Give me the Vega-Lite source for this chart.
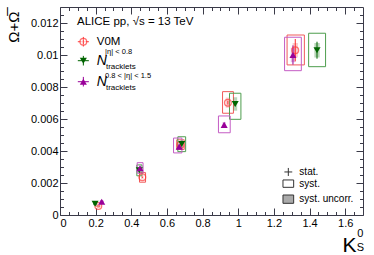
{
"$schema": "https://vega.github.io/schema/vega-lite/v6.json",
"width": 303, "height": 208,
"autosize": {"type": "none"},
"padding": {"left": 60, "top": 7, "right": 11, "bottom": 40},
"background": "white",
"config": {
  "view": {"stroke": "#3a3a48", "strokeWidth": 1},
  "axis": {"domain": false, "grid": false, "tickColor": "#3a3a48", "tickWidth": 1, "labelFont": "Liberation Sans", "labelFontSize": 11, "labelColor": "#000", "titleFont": "Liberation Sans", "titleColor": "#000", "titleFontWeight": "normal"},
  "text": {"font": "Liberation Sans", "color": "#000"}
},
"resolve": {"axis": {"x": "independent", "y": "independent"}},
"data": {"values": [
  {"s": "V0M", "x": 0.215, "y": 0.00056, "xlo": 0.207, "xhi": 0.223, "ylo": 0.00050, "yhi": 0.00062, "uxlo": 0.211, "uxhi": 0.219, "uylo": 0.00053, "uyhi": 0.00059, "elo": 0.00054, "ehi": 0.00058},
  {"s": "V0M", "x": 0.462, "y": 0.00236, "xlo": 0.446, "xhi": 0.480, "ylo": 0.00205, "yhi": 0.00265, "uxlo": 0.455, "uxhi": 0.469, "uylo": 0.00222, "uyhi": 0.00250, "elo": 0.00232, "ehi": 0.00240},
  {"s": "V0M", "x": 0.676, "y": 0.00438, "xlo": 0.655, "xhi": 0.697, "ylo": 0.0041, "yhi": 0.0047, "uxlo": 0.668, "uxhi": 0.684, "uylo": 0.00422, "uyhi": 0.00454, "elo": 0.00432, "ehi": 0.00444},
  {"s": "V0M", "x": 0.942, "y": 0.00702, "xlo": 0.912, "xhi": 0.973, "ylo": 0.00636, "yhi": 0.00771, "uxlo": 0.930, "uxhi": 0.954, "uylo": 0.00670, "uyhi": 0.00734, "elo": 0.00690, "ehi": 0.00714},
  {"s": "V0M", "x": 1.32, "y": 0.0103, "xlo": 1.274, "xhi": 1.371, "ylo": 0.00938, "yhi": 0.01125, "uxlo": 1.305, "uxhi": 1.335, "uylo": 0.00985, "uyhi": 0.01075, "elo": 0.0096, "ehi": 0.0110},
  {"s": "N08", "x": 0.197, "y": 0.0007, "xlo": 0.189, "xhi": 0.205, "ylo": 0.00064, "yhi": 0.00076, "uxlo": 0.193, "uxhi": 0.201, "uylo": 0.00067, "uyhi": 0.00073, "elo": 0.00068, "ehi": 0.00072},
  {"s": "N08", "x": 0.445, "y": 0.0028, "xlo": 0.431, "xhi": 0.460, "ylo": 0.00245, "yhi": 0.00313, "uxlo": 0.440, "uxhi": 0.450, "uylo": 0.00262, "uyhi": 0.00298, "elo": 0.00275, "ehi": 0.00285},
  {"s": "N08", "x": 0.683, "y": 0.00444, "xlo": 0.661, "xhi": 0.705, "ylo": 0.00396, "yhi": 0.00489, "uxlo": 0.675, "uxhi": 0.691, "uylo": 0.0042, "uyhi": 0.00468, "elo": 0.00437, "ehi": 0.00451},
  {"s": "N08", "x": 0.983, "y": 0.00694, "xlo": 0.951, "xhi": 1.015, "ylo": 0.00598, "yhi": 0.00761, "uxlo": 0.972, "uxhi": 0.994, "uylo": 0.00652, "uyhi": 0.00736, "elo": 0.0068, "ehi": 0.00708},
  {"s": "N08", "x": 1.442, "y": 0.0103, "xlo": 1.395, "xhi": 1.490, "ylo": 0.00927, "yhi": 0.01136, "uxlo": 1.427, "uxhi": 1.457, "uylo": 0.00985, "uyhi": 0.01075, "elo": 0.00977, "ehi": 0.01083},
  {"s": "N0815", "x": 0.234, "y": 0.00083, "xlo": 0.226, "xhi": 0.242, "ylo": 0.00077, "yhi": 0.00089, "uxlo": 0.230, "uxhi": 0.238, "uylo": 0.0008, "uyhi": 0.00086, "elo": 0.00081, "ehi": 0.00085},
  {"s": "N0815", "x": 0.449, "y": 0.00292, "xlo": 0.433, "xhi": 0.466, "ylo": 0.00261, "yhi": 0.00327, "uxlo": 0.444, "uxhi": 0.454, "uylo": 0.00278, "uyhi": 0.00306, "elo": 0.00287, "ehi": 0.00297},
  {"s": "N0815", "x": 0.669, "y": 0.00427, "xlo": 0.637, "xhi": 0.684, "ylo": 0.00388, "yhi": 0.00481, "uxlo": 0.661, "uxhi": 0.677, "uylo": 0.0041, "uyhi": 0.00444, "elo": 0.0042, "ehi": 0.00434},
  {"s": "N0815", "x": 0.921, "y": 0.00563, "xlo": 0.889, "xhi": 0.955, "ylo": 0.00514, "yhi": 0.00619, "uxlo": 0.912, "uxhi": 0.930, "uylo": 0.00545, "uyhi": 0.00581, "elo": 0.00553, "ehi": 0.00573},
  {"s": "N0815", "x": 1.307, "y": 0.0100, "xlo": 1.260, "xhi": 1.354, "ylo": 0.00902, "yhi": 0.01111, "uxlo": 1.295, "uxhi": 1.319, "uylo": 0.00955, "uyhi": 0.01045, "elo": 0.0094, "ehi": 0.0106}
]},
"layer": [
  {"mark": {"type": "rect", "fill": null, "fillOpacity": 0, "strokeWidth": 1},
   "encoding": {
     "x": {"field": "xlo", "type": "quantitative", "scale": {"domain": [0, 1.7], "nice": false, "zero": false},
           "axis": {"orient": "bottom", "values": [0, 0.2, 0.4, 0.6, 0.8, 1, 1.2, 1.4, 1.6], "tickSize": -7, "labelPadding": 9, "format": "~g", "title": null}},
     "x2": {"field": "xhi"},
     "y": {"field": "ylo", "type": "quantitative", "scale": {"domain": [0, 0.013], "nice": false, "zero": false},
           "axis": {"orient": "left", "values": [0, 0.002, 0.004, 0.006, 0.008, 0.01, 0.012], "tickSize": -7, "labelPadding": 9, "format": "~g",
                    "title": "Ω+Ω\u0305", "titleFontSize": 15, "titleX": -47, "titleY": 4, "titleAlign": "right", "titleBaseline": "middle", "titleAngle": -90}},
     "y2": {"field": "yhi"},
     "stroke": {"field": "s", "type": "nominal", "scale": {"domain": ["V0M", "N08", "N0815"], "range": ["#f05a5a", "#4e9e4e", "#c45cc4"]}, "legend": null}
   }},
  {"mark": {"type": "rect", "fillOpacity": 0.35, "strokeWidth": 0},
   "encoding": {
     "x": {"field": "uxlo", "type": "quantitative", "scale": {"domain": [0, 1.7], "nice": false, "zero": false},
           "axis": {"orient": "bottom", "values": [0.05, 0.1, 0.15, 0.25, 0.3, 0.35, 0.45, 0.5, 0.55, 0.65, 0.7, 0.75, 0.85, 0.9, 0.95, 1.05, 1.1, 1.15, 1.25, 1.3, 1.35, 1.45, 1.5, 1.55, 1.65], "tickSize": -3.5, "labels": false, "title": null}},
     "x2": {"field": "uxhi"},
     "y": {"field": "uylo", "type": "quantitative", "scale": {"domain": [0, 0.013], "nice": false, "zero": false},
           "axis": {"orient": "left", "values": [0.0005, 0.001, 0.0015, 0.0025, 0.003, 0.0035, 0.0045, 0.005, 0.0055, 0.0065, 0.007, 0.0075, 0.0085, 0.009, 0.0095, 0.0105, 0.011, 0.0115, 0.0125], "tickSize": -3.5, "labels": false, "title": null}},
     "y2": {"field": "uyhi"},
     "fill": {"field": "s", "type": "nominal", "scale": {"domain": ["V0M", "N08", "N0815"], "range": ["#f07070", "#3a8a3a", "#b040b0"]}, "legend": null}
   }},
  {"mark": {"type": "rule", "strokeWidth": 1},
   "encoding": {
     "x": {"field": "x", "type": "quantitative", "scale": {"domain": [0, 1.7], "nice": false, "zero": false},
           "axis": {"orient": "top", "values": [0, 0.2, 0.4, 0.6, 0.8, 1, 1.2, 1.4, 1.6], "tickSize": -7, "labels": false, "title": null}},
     "y": {"field": "elo", "type": "quantitative", "scale": {"domain": [0, 0.013], "nice": false, "zero": false},
           "axis": {"orient": "right", "values": [0, 0.002, 0.004, 0.006, 0.008, 0.01, 0.012], "tickSize": -7, "labels": false, "title": null}},
     "y2": {"field": "ehi"},
     "color": {"field": "s", "type": "nominal", "scale": {"domain": ["V0M", "N08", "N0815"], "range": ["#ff2a2a", "#006400", "#990099"]}, "legend": null}
   }},
  {"transform": [{"filter": "datum.s == 'V0M'"}],
   "mark": {"type": "point", "shape": "circle", "filled": false, "stroke": "#ff3a3a", "strokeWidth": 1.3, "size": 45},
   "encoding": {
     "x": {"field": "x", "type": "quantitative", "scale": {"domain": [0, 1.7], "nice": false, "zero": false},
           "axis": {"orient": "top", "values": [0.05, 0.1, 0.15, 0.25, 0.3, 0.35, 0.45, 0.5, 0.55, 0.65, 0.7, 0.75, 0.85, 0.9, 0.95, 1.05, 1.1, 1.15, 1.25, 1.3, 1.35, 1.45, 1.5, 1.55, 1.65], "tickSize": -3.5, "labels": false, "title": null}},
     "y": {"field": "y", "type": "quantitative", "scale": {"domain": [0, 0.013], "nice": false, "zero": false},
           "axis": {"orient": "right", "values": [0.0005, 0.001, 0.0015, 0.0025, 0.003, 0.0035, 0.0045, 0.005, 0.0055, 0.0065, 0.007, 0.0075, 0.0085, 0.009, 0.0095, 0.0105, 0.011, 0.0115, 0.0125], "tickSize": -3.5, "labels": false, "title": null}}
   }},
  {"transform": [{"filter": "datum.s != 'V0M'"}],
   "mark": {"type": "point", "filled": true, "size": 50, "opacity": 1},
   "encoding": {
     "x": {"field": "x", "type": "quantitative", "scale": {"domain": [0, 1.7], "nice": false, "zero": false}, "axis": null},
     "y": {"field": "y", "type": "quantitative", "scale": {"domain": [0, 0.013], "nice": false, "zero": false}, "axis": null},
     "color": {"field": "s", "type": "nominal", "scale": {"domain": ["V0M", "N08", "N0815"], "range": ["#ff2a2a", "#006400", "#990099"]}, "legend": null},
     "shape": {"field": "s", "type": "nominal", "scale": {"domain": ["N08", "N0815"], "range": ["triangle-down", "triangle-up"]}, "legend": null}
   }},

  {"data": {"values": [{}]}, "mark": {"type": "text", "text": "ALICE pp, √s = 13 TeV", "fontSize": 11.5, "align": "left", "baseline": "middle"},
   "encoding": {"x": {"datum": 0.0955, "type": "quantitative", "axis": null}, "y": {"datum": 0.01206, "type": "quantitative", "axis": null}}},

  {"data": {"values": [{}]}, "mark": {"type": "rule", "color": "#ff3a3a"},
   "encoding": {"x": {"datum": 0.1, "type": "quantitative", "axis": null}, "x2": {"datum": 0.162}, "y": {"datum": 0.01083, "type": "quantitative", "axis": null}}},
  {"data": {"values": [{}]}, "mark": {"type": "rule", "color": "#ff3a3a"},
   "encoding": {"x": {"datum": 0.131, "type": "quantitative", "axis": null}, "y": {"datum": 0.01053, "type": "quantitative", "axis": null}, "y2": {"datum": 0.01113}}},
  {"data": {"values": [{}]}, "mark": {"type": "point", "shape": "circle", "filled": true, "fill": "white", "stroke": "#ff3a3a", "strokeWidth": 1.3, "size": 45},
   "encoding": {"x": {"datum": 0.131, "type": "quantitative", "axis": null}, "y": {"datum": 0.01083, "type": "quantitative", "axis": null}}},
  {"data": {"values": [{}]}, "mark": {"type": "rule", "color": "#ff3a3a"},
   "encoding": {"x": {"datum": 0.131, "type": "quantitative", "axis": null}, "y": {"datum": 0.01068, "type": "quantitative", "axis": null}, "y2": {"datum": 0.01098}}},
  {"data": {"values": [{}]}, "mark": {"type": "text", "text": "V0M", "fontSize": 11.5, "align": "left", "baseline": "middle"},
   "encoding": {"x": {"datum": 0.206, "type": "quantitative", "axis": null}, "y": {"datum": 0.01083, "type": "quantitative", "axis": null}}},

  {"data": {"values": [{}]}, "mark": {"type": "rule", "color": "#006400"},
   "encoding": {"x": {"datum": 0.1, "type": "quantitative", "axis": null}, "x2": {"datum": 0.162}, "y": {"datum": 0.009644, "type": "quantitative", "axis": null}}},
  {"data": {"values": [{}]}, "mark": {"type": "rule", "color": "#006400"},
   "encoding": {"x": {"datum": 0.131, "type": "quantitative", "axis": null}, "y": {"datum": 0.009344, "type": "quantitative", "axis": null}, "y2": {"datum": 0.009944}}},
  {"data": {"values": [{}]}, "mark": {"type": "point", "shape": "triangle-down", "filled": true, "color": "#006400", "size": 50, "opacity": 1},
   "encoding": {"x": {"datum": 0.131, "type": "quantitative", "axis": null}, "y": {"datum": 0.009644, "type": "quantitative", "axis": null}}},
  {"data": {"values": [{}]}, "mark": {"type": "text", "text": "N", "fontSize": 14, "fontStyle": "italic", "align": "left", "baseline": "middle"},
   "encoding": {"x": {"datum": 0.206, "type": "quantitative", "axis": null}, "y": {"datum": 0.009656, "type": "quantitative", "axis": null}}},
  {"data": {"values": [{}]}, "mark": {"type": "text", "text": "|η| < 0.8", "fontSize": 7.5, "align": "left", "baseline": "middle"},
   "encoding": {"x": {"datum": 0.253, "type": "quantitative", "axis": null}, "y": {"datum": 0.010188, "type": "quantitative", "axis": null}}},
  {"data": {"values": [{}]}, "mark": {"type": "text", "text": "tracklets", "fontSize": 8, "align": "left", "baseline": "middle"},
   "encoding": {"x": {"datum": 0.258, "type": "quantitative", "axis": null}, "y": {"datum": 0.00925, "type": "quantitative", "axis": null}}},

  {"data": {"values": [{}]}, "mark": {"type": "rule", "color": "#990099"},
   "encoding": {"x": {"datum": 0.1, "type": "quantitative", "axis": null}, "x2": {"datum": 0.162}, "y": {"datum": 0.008331, "type": "quantitative", "axis": null}}},
  {"data": {"values": [{}]}, "mark": {"type": "rule", "color": "#990099"},
   "encoding": {"x": {"datum": 0.131, "type": "quantitative", "axis": null}, "y": {"datum": 0.008031, "type": "quantitative", "axis": null}, "y2": {"datum": 0.008631}}},
  {"data": {"values": [{}]}, "mark": {"type": "point", "shape": "triangle-up", "filled": true, "color": "#990099", "size": 50, "opacity": 1},
   "encoding": {"x": {"datum": 0.131, "type": "quantitative", "axis": null}, "y": {"datum": 0.008331, "type": "quantitative", "axis": null}}},
  {"data": {"values": [{}]}, "mark": {"type": "text", "text": "N", "fontSize": 14, "fontStyle": "italic", "align": "left", "baseline": "middle"},
   "encoding": {"x": {"datum": 0.206, "type": "quantitative", "axis": null}, "y": {"datum": 0.008313, "type": "quantitative", "axis": null}}},
  {"data": {"values": [{}]}, "mark": {"type": "text", "text": "0.8 < |η| < 1.5", "fontSize": 7.5, "align": "left", "baseline": "middle"},
   "encoding": {"x": {"datum": 0.253, "type": "quantitative", "axis": null}, "y": {"datum": 0.008688, "type": "quantitative", "axis": null}}},
  {"data": {"values": [{}]}, "mark": {"type": "text", "text": "tracklets", "fontSize": 8, "align": "left", "baseline": "middle"},
   "encoding": {"x": {"datum": 0.258, "type": "quantitative", "axis": null}, "y": {"datum": 0.007938, "type": "quantitative", "axis": null}}},

  {"data": {"values": [{}]}, "mark": {"type": "rule", "color": "#333"},
   "encoding": {"x": {"datum": 1.259, "type": "quantitative", "axis": null}, "x2": {"datum": 1.303}, "y": {"datum": 0.00269, "type": "quantitative", "axis": null}}},
  {"data": {"values": [{}]}, "mark": {"type": "rule", "color": "#333"},
   "encoding": {"x": {"datum": 1.281, "type": "quantitative", "axis": null}, "y": {"datum": 0.00244, "type": "quantitative", "axis": null}, "y2": {"datum": 0.00294}}},
  {"data": {"values": [{}]}, "mark": {"type": "rect", "fill": "white", "stroke": "#333", "strokeWidth": 1},
   "encoding": {"x": {"datum": 1.251, "type": "quantitative", "axis": null}, "x2": {"datum": 1.311}, "y": {"datum": 0.00173, "type": "quantitative", "axis": null}, "y2": {"datum": 0.00219}}},
  {"data": {"values": [{}]}, "mark": {"type": "rect", "fill": "#aaaaaa", "stroke": "#333", "strokeWidth": 1},
   "encoding": {"x": {"datum": 1.251, "type": "quantitative", "axis": null}, "x2": {"datum": 1.311}, "y": {"datum": 0.00073, "type": "quantitative", "axis": null}, "y2": {"datum": 0.00125}}},
  {"data": {"values": [{}]}, "mark": {"type": "text", "text": "stat.", "fontSize": 10, "align": "left", "baseline": "middle"},
   "encoding": {"x": {"datum": 1.343, "type": "quantitative", "axis": null}, "y": {"datum": 0.00269, "type": "quantitative", "axis": null}}},
  {"data": {"values": [{}]}, "mark": {"type": "text", "text": "syst.", "fontSize": 10, "align": "left", "baseline": "middle"},
   "encoding": {"x": {"datum": 1.343, "type": "quantitative", "axis": null}, "y": {"datum": 0.00196, "type": "quantitative", "axis": null}}},
  {"data": {"values": [{}]}, "mark": {"type": "text", "text": "syst. uncorr.", "fontSize": 10, "align": "left", "baseline": "middle"},
   "encoding": {"x": {"datum": 1.343, "type": "quantitative", "axis": null}, "y": {"datum": 0.00099, "type": "quantitative", "axis": null}}},

  {"data": {"values": [{}]}, "mark": {"type": "text", "text": "K", "fontSize": 21, "align": "center", "baseline": "alphabetic"},
   "encoding": {"x": {"datum": 1.624, "type": "quantitative", "axis": null}, "y": {"datum": -0.00231, "type": "quantitative", "axis": null}}},
  {"data": {"values": [{}]}, "mark": {"type": "text", "text": "0", "fontSize": 11, "align": "center", "baseline": "middle"},
   "encoding": {"x": {"datum": 1.685, "type": "quantitative", "axis": null}, "y": {"datum": -0.0012, "type": "quantitative", "axis": null}}},
  {"data": {"values": [{}]}, "mark": {"type": "text", "text": "S", "fontSize": 11, "align": "center", "baseline": "middle"},
   "encoding": {"x": {"datum": 1.685, "type": "quantitative", "axis": null}, "y": {"datum": -0.00208, "type": "quantitative", "axis": null}}}
]
}
